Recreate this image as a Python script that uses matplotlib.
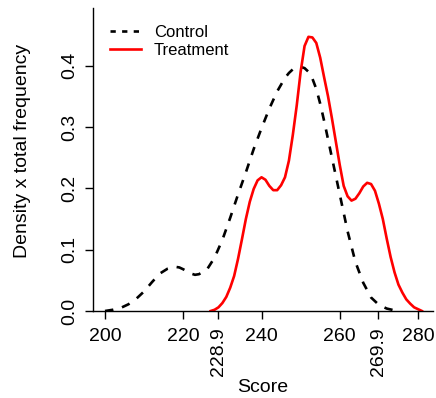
import numpy as np
import matplotlib
matplotlib.use("Agg")
import matplotlib.pyplot as plt
from matplotlib.lines import Line2D

plt.rcParams['font.family'] = ['Liberation Sans', 'DejaVu Sans']

# Control curve (density x total frequency)
ctrl_x = [200, 202, 204, 206, 208, 210, 212, 214, 216, 217, 218, 219, 220, 222, 223,
          224, 226, 228, 230, 232, 234, 236, 238, 240, 242, 244, 246, 247, 248, 249,
          250, 251, 252, 253, 254, 255, 256, 258, 260, 262, 264, 266, 268, 270, 272, 274]
ctrl_y = [0.000, 0.002, 0.005, 0.011, 0.020, 0.032, 0.047, 0.061, 0.069, 0.071, 0.072,
          0.071, 0.068, 0.061, 0.059, 0.060, 0.067, 0.087, 0.116, 0.152, 0.190, 0.226,
          0.264, 0.298, 0.330, 0.358, 0.380, 0.388, 0.394, 0.397, 0.398, 0.396, 0.390,
          0.379, 0.362, 0.338, 0.310, 0.250, 0.190, 0.130, 0.080, 0.046, 0.022, 0.010,
          0.004, 0.001]

# Treatment curve
trt_x = list(range(227, 282))
trt_y = [0.000, 0.002, 0.006, 0.013, 0.023, 0.038, 0.057, 0.085, 0.117, 0.150, 0.178,
         0.199, 0.213, 0.218, 0.214, 0.204, 0.197, 0.197, 0.205, 0.218, 0.245, 0.287,
         0.335, 0.390, 0.432, 0.447, 0.446, 0.437, 0.413, 0.381, 0.350, 0.314, 0.276,
         0.238, 0.204, 0.187, 0.180, 0.183, 0.192, 0.203, 0.209, 0.207, 0.196, 0.175,
         0.150, 0.118, 0.088, 0.063, 0.043, 0.030, 0.019, 0.012, 0.006, 0.003, 0.000]

xticks = [200, 220, 240, 260, 280]
extra_ticks = [228.9, 269.9]
yticks = [0.0, 0.1, 0.2, 0.3, 0.4]

fig = plt.figure(figsize=(4.36, 3.98), dpi=100)
ax = fig.add_axes([93/436, 1 - 311/398, 340/436, 303/398])

ax.plot(ctrl_x, ctrl_y, color='black', lw=1.9, linestyle=(0, (3.2, 3.4)))
ax.plot(trt_x, trt_y, color='red', lw=1.9)

ax.set_xlim(196.93, 283.83)
ax.set_ylim(0, 0.494)

for s in ['top', 'right']:
    ax.spines[s].set_visible(False)
for s in ['left', 'bottom']:
    ax.spines[s].set_linewidth(1.0)

ax.set_xticks(xticks + extra_ticks)
ax.set_xticklabels([str(t) for t in xticks] + [str(t) for t in extra_ticks])
for lab, t in zip(ax.get_xticklabels(), xticks + extra_ticks):
    if t in extra_ticks:
        lab.set_rotation(90)
        lab.set_va('top')
ax.set_yticks(yticks)
ax.set_yticklabels([f"{t:.1f}" for t in yticks], rotation=90, va='center')
ax.tick_params(axis='both', length=6, width=1.0, labelsize=14)
ax.tick_params(axis='x', pad=6)
ax.tick_params(axis='y', pad=4.5)

ax.set_xlabel('Score', fontsize=14, labelpad=2)
ax.set_ylabel('Density x total frequency', fontsize=14)
ax.yaxis.set_label_coords(-0.182, 0.528)

# legend with the shorter dash look of the original
handles = [Line2D([], [], color='black', lw=1.9, linestyle=(0, (2.0, 2.4))),
           Line2D([], [], color='red', lw=1.9)]
ax.legend(handles, ['Control', 'Treatment'], loc='upper left', bbox_to_anchor=(0.0, 1.0),
          frameon=False, fontsize=12, handlelength=1.9, handletextpad=0.75,
          labelspacing=0.2, borderaxespad=0.6)

fig.savefig('out.png', dpi=100)
